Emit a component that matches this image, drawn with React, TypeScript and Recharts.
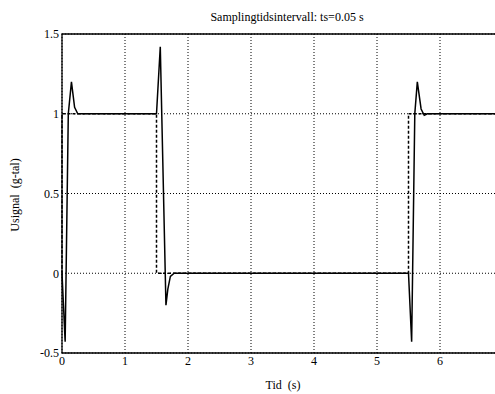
import React from "react";
import { LineChart, Line, XAxis, YAxis, CartesianGrid, ReferenceArea } from "recharts";

const responseTime = [0, 0.05, 0.1, 0.15, 0.2, 0.25, 1.5, 1.56, 1.6, 1.65, 1.68, 1.72, 1.78, 5.5, 5.55, 5.6, 5.64, 5.7, 5.75, 5.8, 7];
const responseValue = [0, -0.43, 1.0, 1.2, 1.04, 1.0, 1.0, 1.42, 0.7, -0.2, -0.1, -0.02, 0.0, 0.0, -0.43, 1.0, 1.2, 1.03, 0.99, 1.0, 1.0];
const refTime = [0, 0, 1.5, 1.5, 5.5, 5.5, 7];
const refValue = [0, 1, 1, 0, 0, 1, 1];
const xTicks = [0, 1, 2, 3, 4, 5, 6];
const yTicks = [-0.5, 0, 0.5, 1, 1.5];

const title = "Samplingtidsintervall: ts=0.05 s";
const xLabel = "Tid  (s)";
const yLabel = "Usignal  (g-tal)";

const responseData = responseTime.map((t, i) => ({ t, v: responseValue[i] }));
const refData = refTime.map((t, i) => ({ t, v: refValue[i] }));

const font = "'Liberation Serif', 'DejaVu Serif', serif";
const tickStyle = { fontSize: 12, fill: "#000", fontFamily: font };

export default function App() {
  return (
    <div style={{ position: "absolute", left: 0, top: 0, width: 495, height: 394, overflow: "hidden", background: "#fff" }}>
      <LineChart width={505} height={394} margin={{ top: 34, right: 2, bottom: 11, left: 2 }}>
        <CartesianGrid stroke="#000" strokeDasharray="1 2" strokeWidth={1} />
        <XAxis
          type="number"
          dataKey="t"
          domain={[0, 7]}
          ticks={xTicks}
          allowDuplicatedCategory={false}
          tickLine={false}
          axisLine={false}
          tick={tickStyle}
          tickSize={0}
          tickMargin={3}
          height={30}
        />
        <YAxis
          type="number"
          dataKey="v"
          domain={[-0.5, 1.5]}
          ticks={yTicks}
          tickLine={false}
          axisLine={false}
          tick={tickStyle}
          tickSize={0}
          tickMargin={3}
          width={60}
          tickFormatter={(v: number) => String(v)}
        />
        <ReferenceArea x1={0} x2={7} y1={-0.5} y2={1.5} fill="none" stroke="#000" strokeWidth={1.3} ifOverflow="visible" />
        <Line data={refData} dataKey="v" type="linear" stroke="#000" strokeWidth={1.5} strokeDasharray="3 2" dot={false} isAnimationActive={false} />
        <Line data={responseData} dataKey="v" type="linear" stroke="#000" strokeWidth={1.5} dot={false} isAnimationActive={false} />
      </LineChart>
      <div style={{ position: "absolute", left: 287, top: 10, transform: "translateX(-50%)", fontFamily: font, fontSize: 12, whiteSpace: "pre", color: "#000" }}>
        {title}
      </div>
      <div style={{ position: "absolute", left: 283, top: 378, transform: "translateX(-50%)", fontFamily: font, fontSize: 12, whiteSpace: "pre", color: "#000" }}>
        {xLabel}
      </div>
      <div style={{ position: "absolute", left: 15, top: 195, transform: "translate(-50%, -50%) rotate(-90deg)", fontFamily: font, fontSize: 12, whiteSpace: "pre", color: "#000" }}>
        {yLabel}
      </div>
    </div>
  );
}
